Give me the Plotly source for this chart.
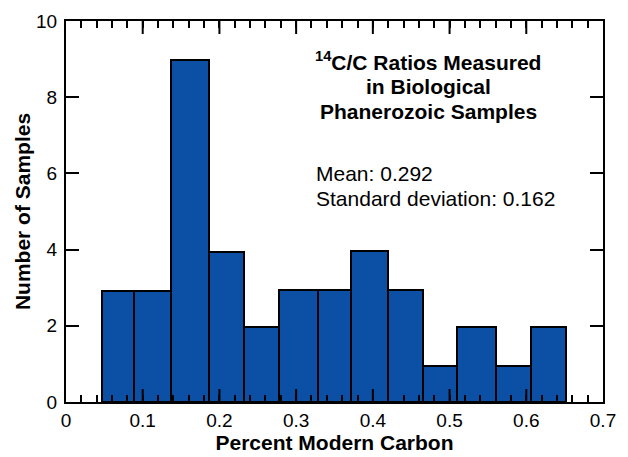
import plotly.graph_objects as go

# Bin edges (Percent Modern Carbon)
bin_edges = [0.047, 0.088, 0.137, 0.186, 0.232, 0.277, 0.328, 0.371, 0.420, 0.466, 0.510, 0.560, 0.606, 0.652]
# Counts per bin
counts = [2.92, 2.92, 8.97, 3.94, 1.96, 2.94, 2.94, 3.96, 2.95, 0.95, 1.96, 0.95, 1.96]

x_major = [0, 0.1, 0.2, 0.3, 0.4, 0.5, 0.6, 0.7]
x_major_text = ["0", "0.1", "0.2", "0.3", "0.4", "0.5", "0.6", "0.7"]

title_lines = ["<sup>14</sup>C/C Ratios Measured", "in Biological", "Phanerozoic Samples"]
stats_lines = ["Mean: 0.292", "Standard deviation: 0.162"]
x_title = "Percent Modern Carbon"
y_title = "Number of Samples"

centers = [(a + b) / 2 for a, b in zip(bin_edges[:-1], bin_edges[1:])]
widths = [b - a for a, b in zip(bin_edges[:-1], bin_edges[1:])]

# every 0.02 gets a short tick; labels only on the 0.1 multiples
all_ticks = [round(i * 0.02, 2) for i in range(36)]
all_text = [x_major_text[x_major.index(v)] if v in x_major else "" for v in all_ticks]

FONT = "Liberation Sans, Arial, sans-serif"
PLOT_H = 381  # plot height in px (449 - 13 - 55)
MAJOR_LEN = 13

fig = go.Figure()
fig.add_trace(go.Bar(
    x=centers, y=counts, width=widths,
    marker=dict(color="#0b50a5", line=dict(color="black", width=2)),
    showlegend=False, hoverinfo="skip",
))

fig.update_layout(
    width=620, height=449,
    margin=dict(l=58, r=25, t=13, b=55),
    paper_bgcolor="white", plot_bgcolor="white",
    font=dict(family=FONT, size=19, color="black"),
    bargap=0,
)

fig.layout.xaxis.update(
    range=[0, 0.7], tickmode="array", tickvals=all_ticks, ticktext=all_text,
    showgrid=False, zeroline=False, automargin=False,
    showline=True, linecolor="black", linewidth=2, mirror="ticks",
    ticks="inside", ticklen=7, tickwidth=2, tickcolor="black",
    tickfont=dict(size=19, family=FONT),
    title=dict(text="<b>%s</b>" % x_title, font=dict(size=21, family=FONT), standoff=0),
)
fig.layout.yaxis.update(
    range=[0, 10], dtick=2, tick0=0,
    showgrid=False, zeroline=False, automargin=False,
    showline=True, linecolor="black", linewidth=2, mirror="ticks",
    ticks="inside", ticklen=13, tickwidth=2, tickcolor="black",
    ticklabelstandoff=3,
    tickfont=dict(size=19, family=FONT),
    title=dict(text="<b>%s</b>" % y_title, font=dict(size=21, family=FONT), standoff=0),
)

# longer major ticks on bottom and top x axes
for v in x_major[1:-1]:
    for y0, y1 in ((0, MAJOR_LEN / PLOT_H), (1, 1 - MAJOR_LEN / PLOT_H)):
        fig.add_shape(type="line", xref="x", yref="paper", x0=v, x1=v, y0=y0, y1=y1,
                      line=dict(color="black", width=2), layer="above")

# Title block
for i, line in enumerate(title_lines):
    fig.add_annotation(
        text="<b>%s</b>" % line, xref="paper", yref="paper",
        x=(428 - 66) / 537, y=1 - (61 + 25 * i - 21) / 381,
        xanchor="center", yanchor="middle", showarrow=False,
        font=dict(size=21, family=FONT, color="black"),
    )
for i, line in enumerate(stats_lines):
    fig.add_annotation(
        text=line, xref="paper", yref="paper",
        x=(314 - 66) / 537, y=1 - (173 + 25 * i - 21) / 381,
        xanchor="left", yanchor="middle", showarrow=False,
        font=dict(size=21, family=FONT, color="black"),
    )

fig.write_html("out.html")
